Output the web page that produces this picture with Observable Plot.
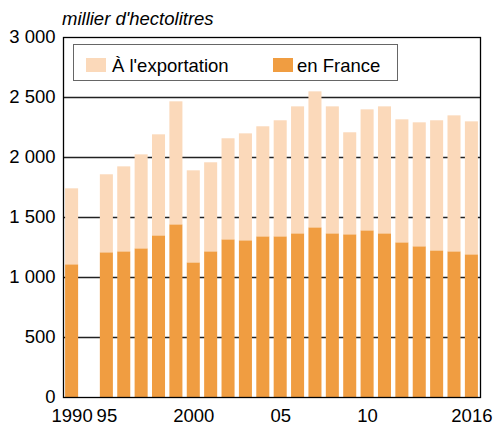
<!DOCTYPE html>
<html><head><meta charset="utf-8">
<script src="https://cdn.jsdelivr.net/npm/d3@7"></script>
<script src="https://cdn.jsdelivr.net/npm/@observablehq/plot@0.6"></script>
<style>
body{margin:0;background:#fff;font-family:"Liberation Sans",Arial,sans-serif;color:#000;}
#wrap{position:relative;width:493px;height:424px;}
#wrap svg{display:block;}
#title{position:absolute;left:62px;top:9px;font-style:italic;font-size:18.5px;line-height:20px;white-space:nowrap;}
#legend{position:absolute;left:73px;top:44px;width:323px;height:35px;border:1.5px solid #666;background:#fff;}
.sw{position:absolute;width:20px;height:14px;top:13px;}
.lt{position:absolute;top:11px;font-size:18.5px;line-height:20px;white-space:nowrap;}
</style></head>
<body>
<div id="wrap">
<div id="title">millier d'hectolitres</div>
</div>
<script>
const years = ["1990","1995","1996","1997","1998","1999","2000","2001","2002","2003","2004","2005","2006","2007","2008","2009","2010","2011","2012","2013","2014","2015","2016"];
const enFrance = [1106,1206,1214,1239,1347,1439,1122,1214,1314,1306,1339,1339,1364,1414,1364,1356,1389,1364,1289,1256,1222,1214,1189];
const exportation = [633,650,708,783,842,1025,767,742,842,891,917,967,1058,1133,1058,850,1008,1058,1025,1033,1084,1133,1108];
const xSlots = ["1990","gap","1995","1996","1997","1998","1999","2000","2001","2002","2003","2004","2005","2006","2007","2008","2009","2010","2011","2012","2013","2014","2015","2016"];
const tickYears = ["1990","1995","2000","2005","2010","2016"];
const tickLabels = ["1990","95","2000","05","10","2016"];
const seriesNames = ["À l'exportation","en France"];
const seriesColors = ["#FBD9BA","#F09D41"];

const data = [];
years.forEach((y,i)=>{
  data.push({year:y, series:"en France", value:enFrance[i]});
  data.push({year:y, series:"À l'exportation", value:exportation[i]});
});
const fmt = d => d3.format(",")(d).replace(/,/g," ");
const labelOf = y => tickLabels[tickYears.indexOf(y)];

const chart = Plot.plot({
  width:493, height:424,
  marginLeft:63, marginRight:13, marginTop:37, marginBottom:27,
  style:{fontFamily:"'Liberation Sans', Arial, sans-serif", fontSize:"18.5px", background:"#fff", color:"#000"},
  x:{type:"band", domain:xSlots, paddingInner:0.25, paddingOuter:0.12, round:false},
  y:{domain:[0,3000]},
  color:{domain:seriesNames, range:seriesColors},
  marks:[
    Plot.gridY({ticks:d3.range(500,3000,500), stroke:"#222", strokeOpacity:1, strokeWidth:1.3}),
    Plot.barY(data,{x:"year", y:"value", fill:"series", order:["en France","À l'exportation"]}),
    Plot.axisY({ticks:d3.range(0,3001,500), tickFormat:fmt, tickSize:0, tickPadding:8, label:null, fontSize:18.5}),
    Plot.axisX({ticks:tickYears, tickFormat:labelOf, tickSize:0, tickPadding:11, label:null, fontSize:18.5}),
    Plot.frame({stroke:"#000", strokeWidth:1.3})
  ]
});
const wrap = document.getElementById("wrap");
wrap.insertBefore(chart, wrap.firstChild);

const leg = document.createElement("div");
leg.id = "legend";
const pos = [{sw:12, tx:38},{sw:199, tx:223}];
seriesNames.forEach((n,i)=>{
  const s = document.createElement("div");
  s.className="sw"; s.style.left=pos[i].sw+"px"; s.style.background=seriesColors[i];
  const t = document.createElement("div");
  t.className="lt"; t.style.left=pos[i].tx+"px"; t.textContent=n;
  leg.appendChild(s); leg.appendChild(t);
});
wrap.appendChild(leg);
</script>
</body></html>
